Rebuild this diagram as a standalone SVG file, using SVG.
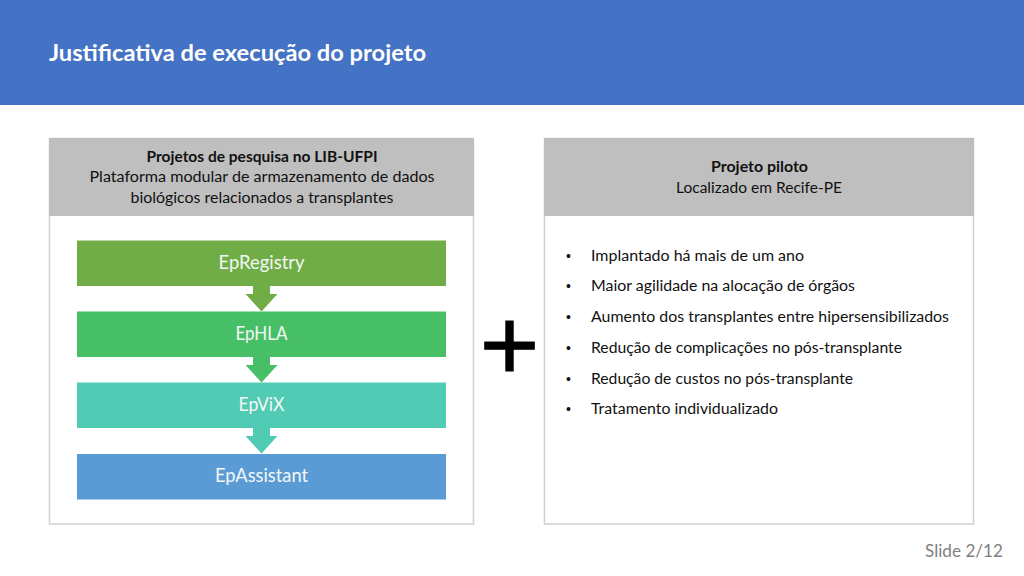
<svg xmlns="http://www.w3.org/2000/svg" width="1024" height="576" viewBox="0 0 1024 576">
<style>
text{font-family:"Lato","Liberation Sans",sans-serif}
.panel{fill:#fff;stroke:#d0d0d0;stroke-width:1.5}
.head{fill:#bfbfbf}
.h{font-size:15.5px;fill:#111;text-anchor:middle}
.b{font-weight:700}
.bar{font-size:19px;fill:#f2f7f5;text-anchor:middle}
.li{font-size:15.5px;fill:#111}
.dot{font-size:14px;fill:#111;font-family:"Liberation Sans",sans-serif}
</style>
<rect width="1024" height="576" fill="#fff"/>
<g id="title-bar"><rect width="1024" height="105" fill="#4472c4"/>
<text x="49" y="61" font-size="23.500" font-weight="700" fill="#fff" textLength="377" lengthAdjust="spacingAndGlyphs">Justificativa de execução do projeto</text></g>
<g id="panel-left">
<rect class="panel" x="49.5" y="138.5" width="424" height="385.500"/>
<rect class="head" x="49" y="138" width="425" height="78"/>
<text class="h b" x="262" y="162" textLength="231" lengthAdjust="spacingAndGlyphs">Projetos de pesquisa no LIB-UFPI</text>
<text class="h" x="262" y="182" textLength="345" lengthAdjust="spacingAndGlyphs">Plataforma modular de armazenamento de dados</text>
<text class="h" x="262" y="203" textLength="263" lengthAdjust="spacingAndGlyphs">biológicos relacionados a transplantes</text>
</g>
<g id="panel-right">
<rect class="panel" x="544.5" y="138.500" width="429" height="385.500"/>
<rect class="head" x="544" y="138" width="430" height="78"/>
<text class="h b" x="759.500" y="172" textLength="97" lengthAdjust="spacingAndGlyphs">Projeto piloto</text>
<text class="h" x="759" y="193" textLength="166" lengthAdjust="spacingAndGlyphs">Localizado em Recife-PE</text>
<text class="dot" x="566" y="261">•</text><text class="li" x="591" y="261" textLength="213" lengthAdjust="spacingAndGlyphs">Implantado há mais de um ano</text>
<text class="dot" x="566" y="291">•</text><text class="li" x="591" y="291" textLength="264" lengthAdjust="spacingAndGlyphs">Maior agilidade na alocação de órgãos</text>
<text class="dot" x="566" y="322">•</text><text class="li" x="591" y="322" textLength="358" lengthAdjust="spacingAndGlyphs">Aumento dos transplantes entre hipersensibilizados</text>
<text class="dot" x="566" y="353">•</text><text class="li" x="591" y="353" textLength="311" lengthAdjust="spacingAndGlyphs">Redução de complicações no pós-transplante</text>
<text class="dot" x="566" y="384">•</text><text class="li" x="591" y="384" textLength="262" lengthAdjust="spacingAndGlyphs">Redução de custos no pós-transplante</text>
<text class="dot" x="566" y="414">•</text><text class="li" x="591" y="414" textLength="187" lengthAdjust="spacingAndGlyphs">Tratamento individualizado</text>
</g>
<g id="connectors">
<polygon fill="#70ad47" points="253,286 270,286 270,294 277.500,294 261.500,311.500 245.500,294 253,294"/>
<polygon fill="#47bf67" points="253,357 270,357 270,365 277.500,365 261.500,382.500 245.500,365 253,365"/>
<polygon fill="#52cbb5" points="253,428 270,428 270,436 277.500,436 261.500,453.500 245.500,436 253,436"/>
</g>
<g id="node-epregistry"><rect x="77" y="240.500" width="369" height="45.500" fill="#70ad47"/><text class="bar" x="261.500" y="269" textLength="86" lengthAdjust="spacingAndGlyphs">EpRegistry</text></g>
<g id="node-ephla"><rect x="77" y="311.500" width="369" height="45.500" fill="#47bf67"/><text class="bar" x="261.500" y="340" textLength="52" lengthAdjust="spacingAndGlyphs">EpHLA</text></g>
<g id="node-epvix"><rect x="77" y="382.500" width="369" height="45.500" fill="#52cbb5"/><text class="bar" x="261.500" y="411" textLength="46" lengthAdjust="spacingAndGlyphs">EpViX</text></g>
<g id="node-epassistant"><rect x="77" y="454" width="369" height="45.500" fill="#5b9bd5"/><text class="bar" x="261.500" y="482" textLength="93" lengthAdjust="spacingAndGlyphs">EpAssistant</text></g>
<text id="plus" x="509.500" y="380" font-size="102" fill="#000" stroke="#000" stroke-width="1" text-anchor="middle" style="font-family:'Liberation Sans',sans-serif">+</text>
<text id="slide-no" x="925" y="557" font-size="17" fill="#7f7f7f" textLength="78" lengthAdjust="spacingAndGlyphs">Slide 2/12</text>
</svg>
